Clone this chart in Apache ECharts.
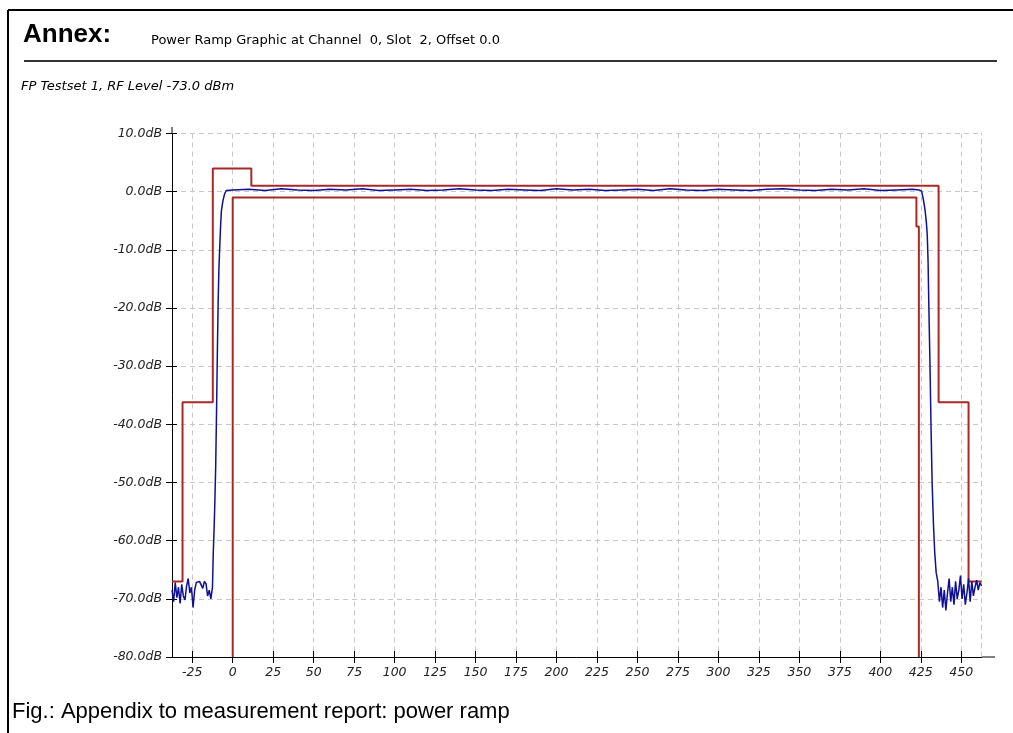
<!DOCTYPE html>
<html>
<head>
<meta charset="utf-8">
<script src="https://cdn.jsdelivr.net/npm/echarts@6/dist/echarts.min.js"></script>
<style>
    html, body { margin: 0; padding: 0; background: #fff; }
    #chart { width: 1013px; height: 733px; }
</style>
</head>
<body>
<div id="chart"></div>
<script>
// time axis tick labels (µs)
const timeTicks = [-25, 0, 25, 50, 75, 100, 125, 150, 175, 200, 225, 250, 275, 300, 325, 350, 375, 400, 425, 450]

// measured power ramp (blue)
const measuredTime = [
    -37.5, -36.5, -35.5, -34.5, -33.5, -32.5, -31.5, -30.5, -29.5, -28.5, -27.5, -26.5, -25.5,
    -24.5, -23.5, -22.5, -21.5, -20.5, -19.5, -18.5, -17.5, -16.5, -15.5, -14.5, -13.5, -12.5,
    -12, -11.5, -11, -10.5, -10, -9.5, -9, -8.5, -8, -7.5, -7, -6, -5, -4,
    0, 10, 20, 30, 40, 50, 60, 70, 80, 90, 100, 110, 120, 130, 140, 150, 160, 170, 180, 190, 200,
    210, 220, 230, 240, 250, 260, 270, 280, 290, 300, 310, 320, 330, 340, 350, 360, 370, 380, 390,
    400, 410, 420, 424, 425.5,
    426.7, 427.7, 428.5, 429, 429.5, 430, 430.7, 431.3, 432, 432.8, 433.6, 434.5,
    435.5, 436.5, 437.5, 438.5, 439.5, 440.5, 441.5, 442.5, 443.5, 444.5, 445.5, 446.5, 447.5,
    448.5, 449.5, 450.5, 451.5, 452.5, 453.5, 454.5, 455.5, 456.5, 457.5, 458.5, 459.5, 460.5,
    461.5, 462.5
]
const measuredLevel = [
    -68.5, -70.5, -67.2, -69.8, -68, -70.8, -67.5, -69.5, -70.2, -67.8, -66.5, -69, -68,
    -71.5, -68.5, -67.2, -67.5, -67, -67.3, -68.2, -67, -67.4, -69.5, -68.5, -70, -68,
    -62, -58, -53, -47, -38, -28, -19, -13, -9.5, -6, -3.3, -1.5, -0.4, 0.2,
    0.3, 0.4, 0.2, 0.5, 0.3, 0.2, 0.4, 0.3, 0.5, 0.2, 0.3, 0.4, 0.2, 0.3, 0.5, 0.3, 0.2, 0.4, 0.3, 0.2, 0.5,
    0.3, 0.4, 0.2, 0.3, 0.4, 0.2, 0.5, 0.3, 0.2, 0.4, 0.3, 0.2, 0.4, 0.5, 0.3, 0.2, 0.4, 0.3, 0.5,
    0.2, 0.3, 0.4, 0.3, 0.1,
    -1.5, -3.3, -5.5, -7.5, -12, -20, -30, -40, -50, -57, -62, -65.5,
    -67, -70.5, -68, -71.5, -68.5, -72, -69, -66.5, -70.5, -68, -71, -67, -70,
    -68.5, -66, -70, -67.5, -71, -69, -66.5, -70.5, -67, -69.5, -68, -66.8, -68.5,
    -67.2, -67.8
]

// upper mask (red)
const upperTime = [-37.5, -31, -31, -12.3, -12.3, 11.5, 11.5, 436, 436, 454.5, 454.5, 462.5]
const upperLevel = [-67, -67, -36.2, -36.2, 4, 4, 1, 1, -36.2, -36.2, -67, -67]

// lower mask (red)
const lowerTime = [0, 0, 422.3, 422.3, 423.8, 423.8]
const lowerLevel = [-80, -1, -1, -6, -6, -80]

const zip = (xs, ys) => xs.map((x, i) => [x, ys[i]])

const chart = echarts.init(document.getElementById('chart'))

const labelFont = {
    color: '#222',
    fontFamily: 'DejaVu Sans',
    fontStyle: 'italic',
    fontSize: 12.5
}
const gridDash = { color: '#c8c8c8', type: [5, 4], width: 1 }

const option = {
    animation: false,
    backgroundColor: '#fff',
    grid: { left: 172, right: 31.5, top: 133.5, bottom: 76 },
    xAxis: [
        {
            type: 'value', min: -37.5, max: 462.5, position: 'bottom',
            axisLine: { onZero: false, lineStyle: { color: '#000', width: 1 } },
            axisTick: { length: 6, customValues: timeTicks, lineStyle: { color: '#000' } },
            axisLabel: Object.assign({ customValues: timeTicks, margin: 9 }, labelFont),
            splitLine: { show: true, lineStyle: gridDash }
        },
        {
            type: 'value', min: -37.5, max: 462.5, position: 'bottom',
            axisLine: { show: false, onZero: false },
            axisTick: { inside: true, length: 6, customValues: timeTicks, lineStyle: { color: '#000' } },
            axisLabel: { show: false },
            splitLine: { show: false }
        }
    ],
    yAxis: [
        {
            type: 'value', min: -80, max: 10, interval: 10, position: 'left',
            axisLine: { show: true, onZero: false, lineStyle: { color: '#000', width: 1 } },
            axisTick: { length: 6, lineStyle: { color: '#000' } },
            axisLabel: Object.assign({ margin: 10, formatter: v => v.toFixed(1) + 'dB' }, labelFont),
            splitLine: { show: true, lineStyle: gridDash }
        },
        {
            type: 'value', min: -80, max: 10, interval: 10, position: 'left',
            axisLine: { show: false, onZero: false },
            axisTick: { inside: true, length: 5, lineStyle: { color: '#000' } },
            axisLabel: { show: false },
            splitLine: { show: false }
        },
        {
            type: 'value', min: -80, max: 10, interval: 10, position: 'right',
            axisLine: { show: true, onZero: false, lineStyle: gridDash },
            axisTick: { show: false },
            axisLabel: { show: false },
            splitLine: { show: false }
        }
    ],
    series: [
        {
            name: 'upper mask', type: 'line', data: zip(upperTime, upperLevel),
            symbol: 'none', lineStyle: { color: '#a82828', width: 2 }, z: 3
        },
        {
            name: 'lower mask', type: 'line', data: zip(lowerTime, lowerLevel),
            symbol: 'none', lineStyle: { color: '#a82828', width: 2 }, z: 3
        },
        {
            name: 'measured', type: 'line', data: zip(measuredTime, measuredLevel),
            symbol: 'none', lineStyle: { color: '#101094', width: 1.5 }, z: 4
        }
    ],
    graphic: [
        // page frame
        { type: 'line', shape: { x1: 8, y1: 10, x2: 1013, y2: 10 }, style: { stroke: '#000', lineWidth: 2 } },
        { type: 'line', shape: { x1: 8, y1: 10, x2: 8, y2: 733 }, style: { stroke: '#000', lineWidth: 2 } },
        { type: 'line', shape: { x1: 24, y1: 61, x2: 997, y2: 61 }, style: { stroke: '#333', lineWidth: 2 } },
        // axis overshoot
        { type: 'line', shape: { x1: 172, y1: 127, x2: 172, y2: 134 }, style: { stroke: '#000', lineWidth: 1 } },
        { type: 'line', shape: { x1: 981, y1: 657, x2: 995, y2: 657 }, style: { stroke: '#000', lineWidth: 1 } },
        {
            type: 'text', left: 23, top: 22,
            style: { text: 'Annex:', font: 'bold 26px "Liberation Sans", Arial', fill: '#000' }
        },
        {
            type: 'text', left: 151, top: 34,
            style: { text: 'Power Ramp Graphic at Channel  0, Slot  2, Offset 0.0', font: '13px "DejaVu Sans"', fill: '#000' }
        },
        {
            type: 'text', left: 21, top: 80,
            style: { text: 'FP Testset 1, RF Level -73.0 dBm', font: 'italic 13px "DejaVu Sans"', fill: '#000' }
        },
        {
            type: 'text', left: 12, top: 701,
            style: { text: 'Fig.: Appendix to measurement report: power ramp', font: '22px "Liberation Sans", Arial', fill: '#000' }
        }
    ]
}

chart.setOption(option)
</script>
</body>
</html>
